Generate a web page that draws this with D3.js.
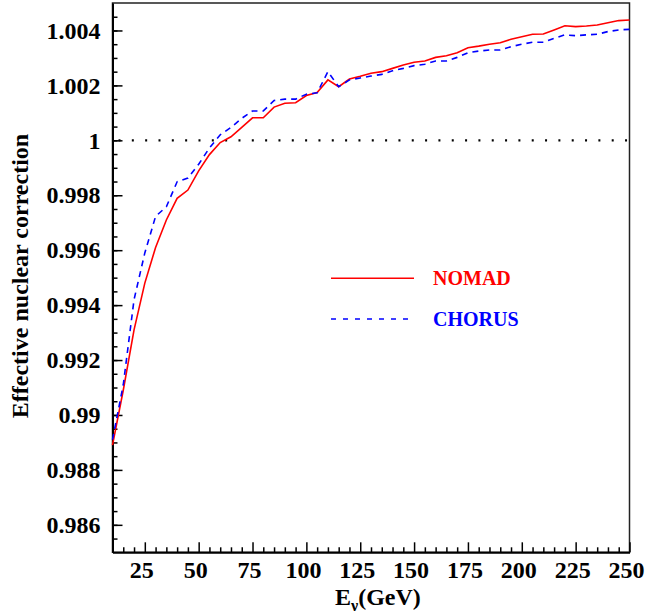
<!DOCTYPE html>
<html>
<head>
<meta charset="utf-8">
<script src="https://cdn.jsdelivr.net/npm/d3@7"></script>
<style>
  html, body { margin: 0; padding: 0; background: #fff; }
  svg { display: block; }
  text { font-family: "Liberation Serif", "Times New Roman", serif; font-weight: bold; }
</style>
</head>
<body>
<svg id="chart" width="645" height="616"></svg>
<script>
// ---- Data ----
const energies = [10,15,20,25,30,35,40,45,50,55,60,65,70,75,80,85,90,95,100,105,110,115,120,125,130,135,140,145,150,155,160,165,170,175,180,185,190,195,200,205,210,215,220,225,230,235,240,245,250];
const nomad = [0.9889,0.9909,0.9931,0.9948,0.9961,0.9971,0.99789,0.99819,0.99889,0.99948,0.99992,1.00013,1.00047,1.00082,1.00082,1.00121,1.00135,1.00137,1.00163,1.00174,1.0022,1.00195,1.00223,1.00233,1.00244,1.0025,1.00262,1.00274,1.00284,1.00289,1.00302,1.00308,1.00319,1.00337,1.00343,1.0035,1.00355,1.00368,1.00377,1.00386,1.00387,1.00402,1.00417,1.00414,1.00416,1.0042,1.00428,1.00436,1.00438];
const chorus = [0.9891,0.9911,0.9942,0.9959,0.99723,0.99758,0.99849,0.99863,0.99913,0.99972,1.0002,1.00047,1.0008,1.00107,1.00107,1.00145,1.0015,1.0015,1.00168,1.00173,1.0025,1.00195,1.0022,1.00227,1.00234,1.0024,1.00253,1.00262,1.00272,1.00277,1.00289,1.00289,1.00302,1.00319,1.00325,1.00329,1.00329,1.00341,1.0035,1.00357,1.00357,1.00371,1.00384,1.00381,1.00384,1.00386,1.00396,1.00402,1.00404];
const xMajorTicks = [25,50,75,100,125,150,175,200,225,250];
const yMajorTicks = [0.986,0.988,0.99,0.992,0.994,0.996,0.998,1,1.002,1.004];
const seriesNames = ["NOMAD","CHORUS"];
const referenceValue = 1;

// ---- Layout ----
const pL = 112.5, pR = 629.5, pT = 3, pB = 552.3;
const svg = d3.select("#chart");
const x = d3.scaleLinear().domain([10, 250]).range([pL, pR]);
const y = d3.scaleLinear().domain([0.985, 1.005]).range([pB, pT]);

const fontStack = '"Liberation Serif", "Times New Roman", serif';

// frame
svg.append("rect")
  .attr("x", pL).attr("y", pT)
  .attr("width", pR - pL).attr("height", pB - pT)
  .attr("fill", "none").attr("stroke", "#222").attr("stroke-width", 1.5);

// minor ticks
const xMinor = d3.range(15, 250, 5).filter(v => v % 25 !== 0);
const yMinor = d3.range(0, 40).map(i => +(0.985 + i * 0.0005).toFixed(4)).filter(v => v > 0.985 && v < 1.005);

svg.append("g").attr("transform", `translate(0,${pB})`)
  .call(d3.axisBottom(x).tickValues(xMinor).tickSize(-5).tickFormat(""))
  .call(g => g.select(".domain").remove())
  .call(g => g.selectAll("line").attr("stroke", "#000").attr("stroke-width", 1.5));

svg.append("g").attr("transform", `translate(${pL},0)`)
  .call(d3.axisLeft(y).tickValues(yMinor).tickSize(-5).tickFormat(""))
  .call(g => g.select(".domain").remove())
  .call(g => g.selectAll("line").attr("stroke", "#000").attr("stroke-width", 1.5));

// major x axis
const xAxis = svg.append("g").attr("transform", `translate(0,${pB})`)
  .call(d3.axisBottom(x).tickValues(xMajorTicks).tickSize(-10).tickPadding(9).tickSizeOuter(0));
xAxis.select(".domain").attr("stroke", "#000").attr("stroke-width", 2);
xAxis.selectAll("line").attr("stroke", "#000").attr("stroke-width", 1.5);
xAxis.selectAll("text").attr("font-family", fontStack).attr("font-weight", "bold")
  .attr("font-size", 24).attr("fill", "#000").attr("dx", -3.5);

// major y axis
const yAxis = svg.append("g").attr("transform", `translate(${pL},0)`)
  .call(d3.axisLeft(y).tickValues(yMajorTicks).tickSize(-10).tickPadding(12).tickSizeOuter(0)
    .tickFormat(d => String(+d.toFixed(3))));
yAxis.select(".domain").attr("stroke", "#000").attr("stroke-width", 2);
yAxis.selectAll("line").attr("stroke", "#000").attr("stroke-width", 1.5);
yAxis.selectAll("text").attr("font-family", fontStack).attr("font-weight", "bold")
  .attr("font-size", 24).attr("fill", "#000");

// reference dotted line at 1
svg.append("line")
  .attr("x1", pL).attr("x2", pR)
  .attr("y1", y(referenceValue)).attr("y2", y(referenceValue))
  .attr("stroke", "#000").attr("stroke-width", 2.2)
  .attr("stroke-dasharray", "2,11.33").attr("stroke-dashoffset", -6);

// curves
const line = d3.line().x(d => x(d[0])).y(d => y(d[1]));
svg.append("path")
  .datum(energies.map((e, i) => [e, nomad[i]]))
  .attr("d", line).attr("fill", "none")
  .attr("stroke", "#ff0000").attr("stroke-width", 1.6);
svg.append("path")
  .datum(energies.map((e, i) => [e, chorus[i]]))
  .attr("d", line).attr("fill", "none")
  .attr("stroke", "#0000ff").attr("stroke-width", 1.6)
  .attr("stroke-dasharray", "6,5");

// legend
const legend = svg.append("g");
legend.append("line").attr("x1", 331).attr("x2", 414).attr("y1", 278.3).attr("y2", 278.3)
  .attr("stroke", "#ff0000").attr("stroke-width", 1.6);
legend.append("text").attr("x", 433).attr("y", 284.5).attr("font-size", 20)
  .attr("fill", "#ff0000").text(seriesNames[0]);
legend.append("line").attr("x1", 331).attr("x2", 414).attr("y1", 319).attr("y2", 319)
  .attr("stroke", "#0000ff").attr("stroke-width", 1.6).attr("stroke-dasharray", "5,7");
legend.append("text").attr("x", 433).attr("y", 326).attr("font-size", 20)
  .attr("fill", "#0000ff").text(seriesNames[1]);

// axis titles
const xt = svg.append("text").attr("x", 335).attr("y", 605).attr("font-size", 24).attr("fill", "#000");
xt.append("tspan").text("E");
xt.append("tspan").attr("font-size", 16).attr("dy", 6).text("ν");
xt.append("tspan").attr("dy", -6).text("(GeV)");

svg.append("text")
  .attr("transform", "translate(28,276) rotate(-90)")
  .attr("text-anchor", "middle").attr("font-size", 24).attr("fill", "#000")
  .text("Effective nuclear correction");
</script>
</body>
</html>
